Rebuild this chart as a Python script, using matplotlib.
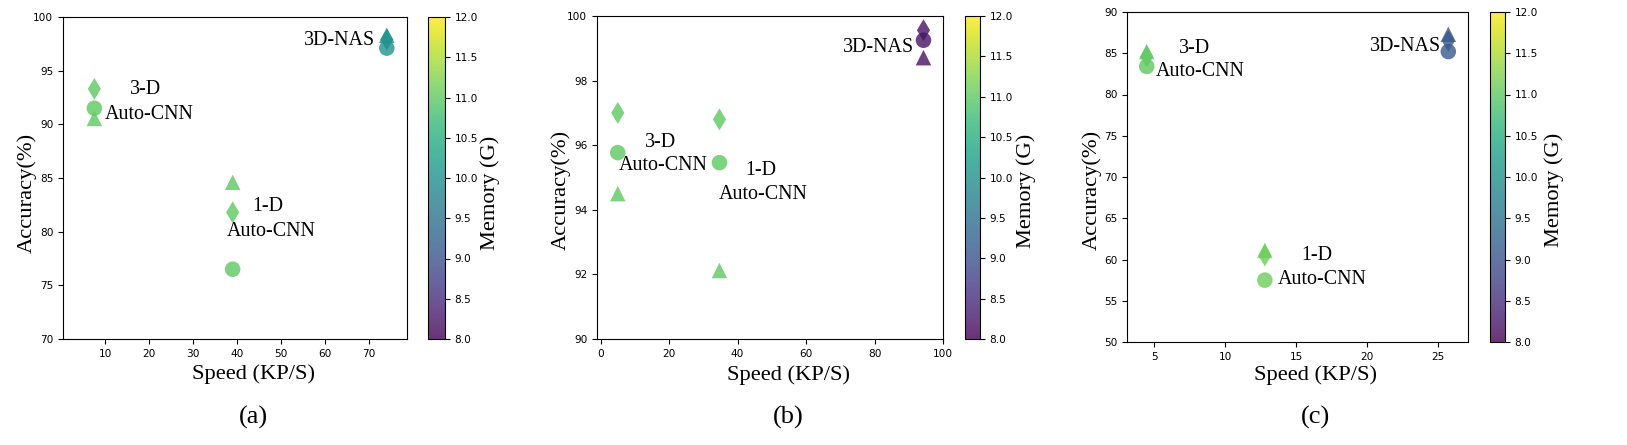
import numpy as np
import matplotlib
matplotlib.use('Agg')
import matplotlib.pyplot as plt

# three methods in each panel: 3-D Auto-CNN, 1-D Auto-CNN, 3D-NAS
# circle / triangle / diamond = three accuracy measures
speed_a = [7.5, 39.0, 74.1]
circ_a = [91.5, 76.5, 97.1]
tri_a = [90.55, 84.6, 98.3]
dia_a = [93.3, 81.8, 97.9]
mem_a = [11.0, 11.0, 10.0]

speed_b = [5.0, 34.7, 94.3]
circ_b = [95.77, 95.46, 99.25]
tri_b = [94.5, 92.12, 98.71]
dia_b = [97.0, 96.8, 99.56]
mem_b = [11.0, 11.0, 8.2]

speed_c = [4.46, 12.8, 25.75]
circ_c = [83.4, 57.5, 85.2]
tri_c = [85.2, 61.1, 87.3]
dia_c = [84.6, 60.5, 86.5]
mem_c = [11.0, 11.1, 9.1]

W, H = 1627, 445
serif = 'Liberation Serif'

fig = plt.figure(figsize=(W / 100, H / 100), dpi=100)


def px_axes(l, r, t, b):
    return fig.add_axes([l / W, 1 - b / H, (r - l) / W, (b - t) / H])


def panel(box, cbox, speed, circ, tri, dia, mem, xlim, ylim, xt, yt, texts,
          xl, yl, cl, cap):
    ax = px_axes(*box)
    cax = px_axes(*cbox)
    for vals, m in [(dia, 'd'), (tri, '^'), (circ, 'o')]:
        sc = ax.scatter(speed, vals, c=mem, cmap='viridis', vmin=8, vmax=12,
                        marker=m, s=125, alpha=0.8, linewidths=0)
    ax.set_xlim(*xlim)
    ax.set_ylim(*ylim)
    ax.set_xticks(xt)
    ax.set_yticks(yt)
    ax.tick_params(labelsize=7.6)
    for x, y, s in texts:
        ax.text(x, y, s, family=serif, fontsize=14.4, ha='left', va='center')
    ax.set_xlabel('Speed (KP/S)', family=serif, fontsize=16.2)
    ax.set_ylabel('Accuracy(%)', family=serif, fontsize=16.2)
    ax.xaxis.set_label_coords(*xl)
    ax.yaxis.set_label_coords(*yl)
    cb = fig.colorbar(sc, cax=cax, ticks=np.arange(8, 12.01, 0.5))
    cb.ax.tick_params(labelsize=7.6)
    cb.set_label('Memory (G)', family=serif, fontsize=16.2)
    cax.yaxis.set_label_coords(*cl)
    fig.text(cap[0] / W, 1 - cap[1] / H, cap[2], family=serif, fontsize=19,
             ha='center', va='center')
    return ax


panel((63, 407, 17, 339), (428, 445, 17, 339),
      speed_a, circ_a, tri_a, dia_a, mem_a,
      (0.36, 78.7), (70, 100), range(10, 71, 10), range(70, 101, 5),
      [(15.5, 93.2, '3-D'), (9.9, 90.95, 'Auto-CNN'), (55.2, 97.8, '3D-NAS'),
       (43.5, 82.3, '1-D'), (37.6, 80.0, 'Auto-CNN')],
      (0.555, -0.08), (-0.075, 0.455), (3.05, 0.455), (253, 417, '(a)'))

panel((597, 943, 16, 339), (965, 980, 16, 339),
      speed_b, circ_b, tri_b, dia_b, mem_b,
      (-1.07, 100), (90, 100), range(0, 101, 20), range(90, 101, 2),
      [(12.8, 96.08, '3-D'), (5.4, 95.37, 'Auto-CNN'), (70.8, 99.04, '3D-NAS'),
       (42.1, 95.21, '1-D'), (34.6, 94.46, 'Auto-CNN')],
      (0.553, -0.08), (-0.075, 0.46), (3.4, 0.46), (788, 417, '(b)'))

panel((1127, 1468, 12, 342), (1490, 1505, 12, 342),
      speed_c, circ_c, tri_c, dia_c, mem_c,
      (3.07, 27.14), (50, 90), range(5, 26, 5), range(50, 91, 5),
      [(6.76, 85.6, '3-D'), (5.1, 82.76, 'Auto-CNN'), (20.2, 85.8, '3D-NAS'),
       (15.39, 60.5, '1-D'), (13.7, 57.6, 'Auto-CNN')],
      (0.552, -0.07), (-0.075, 0.46), (3.6, 0.46), (1315, 417, '(c)'))

fig.savefig('out.png', dpi=100)
